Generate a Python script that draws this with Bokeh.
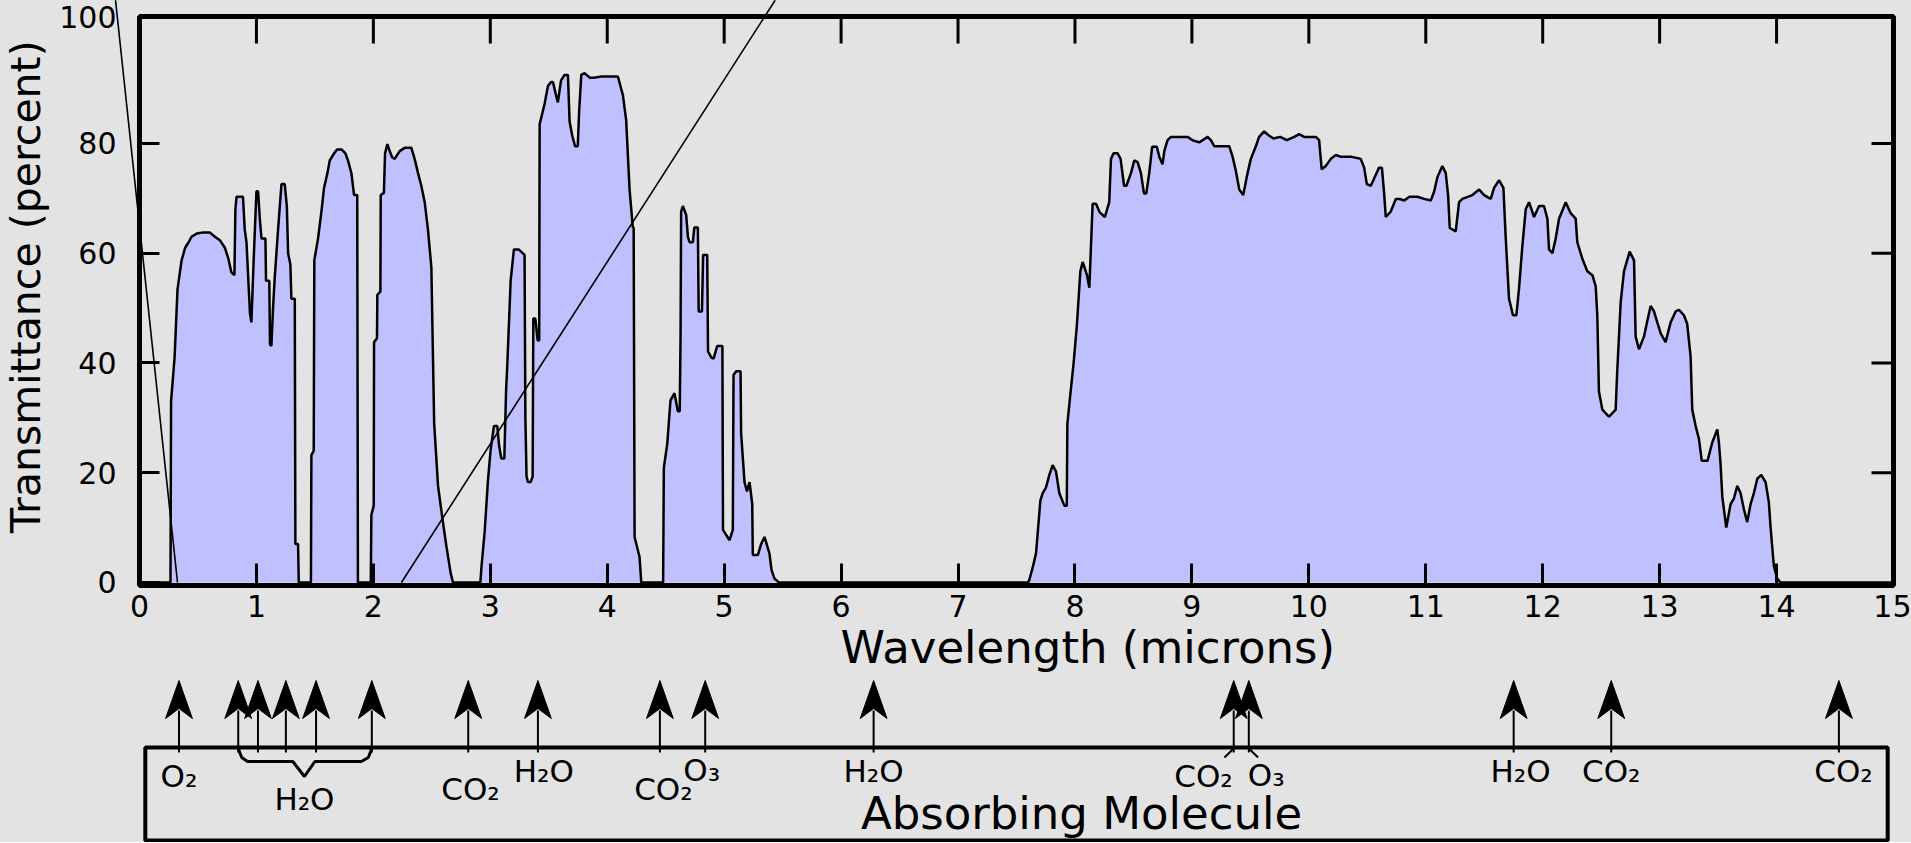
import math
from bokeh.plotting import figure
from bokeh.models import Range1d, FixedTicker
from bokeh.layouts import column
from bokeh.embed import file_html
from bokeh.resources import INLINE
from bokeh.core.properties import value

# ---------------- data (wavelength in microns, transmittance in percent) ----------------
BAND_1 = [(0.265, 0), (0.270, 33), (0.300, 41), (0.325, 53.4), (0.360, 58.7), (0.390, 61), (0.420, 62),
          (0.445, 63), (0.490, 63.6), (0.545, 63.8), (0.600, 63.8), (0.645, 63), (0.690, 62.3), (0.730, 61),
          (0.760, 59), (0.786, 56.5), (0.812, 56), (0.820, 68), (0.830, 70.3), (0.885, 70.3), (0.900, 64.3),
          (0.915, 62), (0.930, 55.4), (0.945, 49), (0.957, 47.4), (0.975, 58), (0.990, 66), (1.000, 71.3),
          (1.014, 71.3), (1.030, 66), (1.043, 62.7), (1.077, 62.7), (1.082, 55), (1.110, 55), (1.116, 43.4),
          (1.128, 43.1), (1.142, 50), (1.157, 55.7), (1.185, 64.3), (1.214, 72.6), (1.242, 72.6), (1.260, 68.6),
          (1.271, 60), (1.290, 58), (1.299, 51.7), (1.328, 51.7), (1.333, 7), (1.356, 7), (1.362, 0)]
BAND_2 = [(1.466, 0), (1.470, 23.2), (1.490, 24), (1.495, 58.7), (1.527, 62.7), (1.556, 67.6), (1.578, 71.9),
          (1.607, 74.6), (1.627, 76.9), (1.664, 78.2), (1.690, 78.9), (1.730, 78.9), (1.761, 78.2), (1.783, 76.9),
          (1.812, 74.6), (1.835, 70.6), (1.862, 70.6), (1.868, 0)]
BAND_3 = [(1.978, 0), (1.983, 12.3), (2.003, 14), (2.006, 43.8), (2.031, 44.5), (2.034, 52.4), (2.060, 53),
          (2.063, 70.6), (2.090, 71), (2.100, 78.2), (2.120, 79.9), (2.140, 78.6), (2.160, 77.5), (2.182, 77.2),
          (2.225, 78.6), (2.268, 79.2), (2.325, 79.2), (2.353, 77.2), (2.382, 74.6), (2.410, 72.3), (2.439, 69.3),
          (2.467, 64.3), (2.496, 57.4), (2.520, 29), (2.553, 17.6), (2.595, 11), (2.624, 6.7), (2.661, 1.7),
          (2.681, 0)]
BAND_4 = [(2.915, 0), (2.925, 3), (2.952, 9.3), (2.980, 18.6), (3.003, 24.2), (3.031, 28.5), (3.060, 28.5),
          (3.075, 25), (3.094, 22.6), (3.120, 22.6), (3.135, 35), (3.145, 39.5), (3.174, 55), (3.202, 60.7),
          (3.242, 60.7), (3.293, 59.7), (3.300, 30), (3.310, 19.3), (3.322, 18.3), (3.345, 18.3), (3.362, 19.3),
          (3.368, 48.1), (3.385, 48.1), (3.405, 44.1), (3.418, 44.1), (3.422, 83.5), (3.464, 87.2), (3.493, 90.5),
          (3.520, 91.2), (3.536, 91.2), (3.560, 89), (3.578, 87.5), (3.605, 91.5), (3.635, 92.5), (3.664, 92.5),
          (3.678, 84), (3.700, 81.5), (3.725, 79.5), (3.748, 79.5), (3.760, 86), (3.778, 92.5), (3.806, 92.8),
          (3.850, 92), (3.892, 92), (3.949, 92.2), (4.091, 92.2), (4.134, 88.8), (4.162, 84.2), (4.191, 71.6),
          (4.219, 64.7), (4.226, 64.7), (4.234, 8.3), (4.276, 4.7), (4.291, 0)]
BAND_5 = [(4.478, 0), (4.484, 20.9), (4.513, 25.2), (4.541, 33.2), (4.575, 34.5), (4.604, 31.2), (4.620, 31.2),
          (4.627, 44.8), (4.632, 67.6), (4.647, 68.6), (4.675, 67), (4.690, 63), (4.704, 62), (4.732, 62),
          (4.745, 64.7), (4.775, 64.7), (4.782, 49.4), (4.810, 49.4), (4.820, 59.7), (4.855, 59.7), (4.862, 42.1),
          (4.890, 41), (4.910, 40.8), (4.940, 43.1), (4.985, 43.1), (4.990, 9.6), (5.046, 7.7), (5.074, 9.6),
          (5.080, 37.8), (5.103, 38.5), (5.140, 38.5), (5.145, 27.2), (5.174, 18.3), (5.195, 16.6), (5.217, 18.3),
          (5.240, 14.3), (5.245, 5), (5.288, 5), (5.316, 7), (5.345, 8.3), (5.387, 5.3), (5.405, 2.3), (5.430, 0.7),
          (5.470, 0)]
BAND_6A = [(7.600, 0), (7.610, 0.5), (7.638, 2.7), (7.667, 5.3), (7.704, 14.9), (7.724, 16.3), (7.752, 17.3),
           (7.781, 19.6), (7.809, 21.4), (7.838, 20.2), (7.866, 16.3), (7.909, 14.0), (7.930, 14.0), (7.935, 28.9),
           (7.960, 34.2), (7.989, 40.1), (8.017, 47.1), (8.046, 56.7), (8.066, 58.4), (8.103, 56.0), (8.123, 53.7),
           (8.151, 69.0), (8.180, 69.0), (8.210, 67.5), (8.256, 66.6), (8.293, 69.3), (8.308, 77.2), (8.330, 78.2),
           (8.365, 78.2), (8.390, 77.2), (8.420, 72.3), (8.440, 72.3), (8.479, 74.6), (8.507, 76.9), (8.536, 76.6),
           (8.564, 74.6), (8.590, 70.9), (8.610, 70.9), (8.635, 74.6), (8.660, 79.4), (8.700, 79.4), (8.721, 77.6),
           (8.749, 76.2), (8.764, 78.6), (8.792, 80.6), (8.821, 81.2), (8.963, 81.2), (9.006, 80.6), (9.063, 80.2),
           (9.091, 80.6), (9.134, 81.2), (9.162, 80.6), (9.191, 79.5), (9.250, 79.5), (9.319, 79.5), (9.348, 77.6),
           (9.376, 75.0), (9.405, 71.6), (9.439, 70.6), (9.476, 74.6), (9.504, 77.2), (9.547, 79.5), (9.575, 81.2),
           (9.618, 82.2), (9.655, 81.5), (9.698, 80.9), (9.755, 81.2), (9.812, 80.6), (9.875, 81.2), (9.917, 81.7),
           (9.960, 81.2), (10.060, 81.2), (10.088, 80.6), (10.110, 75.3), (10.145, 75.9), (10.188, 77.2),
           (10.231, 77.9), (10.270, 77.6), (10.360, 77.6), (10.444, 77.2), (10.473, 75.6), (10.496, 72.6),
           (10.530, 72.3), (10.573, 74.3), (10.600, 75.6), (10.625, 75.6), (10.644, 70.9), (10.658, 66.6),
           (10.701, 67.6), (10.744, 69.9), (10.775, 69.9), (10.815, 69.6), (10.860, 70.3), (10.930, 70.3),
           (10.986, 69.9), (11.043, 69.6), (11.071, 71.2), (11.100, 73.9), (11.142, 75.9), (11.171, 74.6),
           (11.191, 70.6), (11.205, 64.6)]
BAND_6B = [(11.256, 64.0), (11.285, 69.3), (11.313, 69.9), (11.399, 70.6), (11.456, 71.6), (11.499, 70.6),
           (11.556, 69.9), (11.584, 71.9), (11.627, 73.3), (11.664, 71.9), (11.684, 62.7), (11.712, 51.7),
           (11.746, 48.7), (11.775, 48.7), (11.798, 53.7), (11.826, 61.3), (11.855, 68.0), (11.883, 69.3),
           (11.926, 66.6), (11.969, 68.6), (12.011, 68.6), (12.040, 66.3), (12.054, 60.7), (12.083, 60.0),
           (12.111, 62.7), (12.140, 66.3), (12.197, 69.3), (12.239, 67.3), (12.282, 66.3), (12.296, 62.0),
           (12.339, 59.0), (12.382, 56.7), (12.425, 56.0), (12.453, 54.0), (12.467, 48.7), (12.481, 34.8),
           (12.510, 31.5), (12.567, 30.2), (12.624, 31.5), (12.638, 38.8), (12.667, 51.1), (12.695, 56.7),
           (12.744, 60.3), (12.781, 58.7), (12.795, 44.8), (12.823, 42.5), (12.866, 44.8), (12.895, 47.7),
           (12.923, 50.4), (12.952, 49.4), (12.980, 47.4), (13.009, 45.4), (13.051, 43.8), (13.094, 47.4),
           (13.137, 49.4), (13.165, 49.7), (13.208, 48.7), (13.236, 47.1), (13.265, 41.1), (13.279, 31.5),
           (13.308, 28.5), (13.336, 26.2), (13.360, 22.2), (13.410, 22.2), (13.450, 25.5), (13.493, 27.9),
           (13.507, 25.5), (13.521, 21.6), (13.536, 15.6), (13.570, 10.0), (13.607, 14.3), (13.635, 15.3),
           (13.664, 17.6), (13.692, 16.3), (13.721, 13.3), (13.749, 11.0), (13.778, 14.3), (13.806, 16.3),
           (13.835, 18.9), (13.869, 19.6), (13.906, 18.3), (13.934, 14.6), (13.949, 10.0), (13.977, 3.0),
           (14.006, 0.7), (14.034, 0)]

x_ticks = list(range(0, 16))
x_inner_ticks = list(range(1, 15))
y_ticks = [0, 20, 40, 60, 80]
y_top_label = "100"

# two straight guide lines drawn across the chart
guide1_x = [-0.205, 0.325]
guide1_y = [106.1, 0.0]
guide2_x = [2.24, 5.436]
guide2_y = [0.0, 106.1]

# absorbing molecules
arrow_x = [0.29, 0.80, 0.97, 1.21, 1.47, 1.95, 2.78, 3.38, 4.43, 4.82, 6.27, 9.37, 9.50, 11.78, 12.62, 14.58]
mol_text = ["O₂", "H₂O", "CO₂", "H₂O", "CO₂", "O₃", "H₂O", "CO₂", "O₃", "H₂O", "CO₂", "CO₂"]
mol_x = [0.29, 1.37, 2.80, 3.43, 4.46, 4.79, 6.27, 9.11, 9.65, 11.84, 12.62, 14.62]
mol_y = [65, 42, 52, 70, 52, 71, 70, 65, 66, 70, 70, 70]

wavelength = [0.0]
transmittance = [0.0]
for band in (BAND_1, BAND_2, BAND_3, BAND_4, BAND_5, BAND_6A, BAND_6B):
    for w, t in band:
        wavelength.append(w)
        transmittance.append(t)
wavelength.append(15.0)
transmittance.append(0.0)

# ---------------- styling ----------------
BG = "#e3e3e3"
FILL = "#c0c0ff"
FONT = "DejaVu Sans"
W = 1911
X_LO, X_HI = 0.0, 15.0
Y_LO, Y_HI = -0.55, 103.14
PX_X = 117.0       # pixels per micron
PX_Y = 5.4875      # pixels per percent

p = figure(width=W, height=676, x_range=Range1d(X_LO, X_HI), y_range=Range1d(Y_LO, Y_HI),
           output_backend="svg", toolbar_location=None,
           min_border_left=139, min_border_right=18, min_border_top=16, min_border_bottom=91)
p.background_fill_color = BG
p.border_fill_color = BG
p.outline_line_color = "black"
p.outline_line_width = 5
p.xgrid.visible = False
p.ygrid.visible = False

xa = p.xaxis[0]
xa.ticker = FixedTicker(ticks=x_ticks)
xa.axis_line_color = None
xa.major_tick_in = 22
xa.major_tick_out = 0
xa.major_tick_line_width = 3
xa.minor_tick_line_color = None
xa.major_label_text_font = FONT
xa.major_label_text_font_size = "30px"
xa.major_label_text_color = "black"
xa.major_label_standoff = 9

y_top_pos = math.floor(Y_HI)
ya = p.yaxis[0]
ya.ticker = FixedTicker(ticks=y_ticks + [y_top_pos])
ya.major_label_overrides = {y_top_pos: y_top_label}
ya.axis_line_color = None
ya.major_tick_in = 20
ya.major_tick_out = 0
ya.major_tick_line_width = 3
ya.minor_tick_line_color = None
ya.major_label_text_font = FONT
ya.major_label_text_font_size = "30px"
ya.major_label_text_color = "black"
ya.major_label_standoff = 23

# inward ticks on the top and right edges of the frame
top_len = 27 / PX_Y
right_len = 22 / PX_X
p.segment(x0=x_inner_ticks, y0=[Y_HI] * len(x_inner_ticks), x1=x_inner_ticks,
          y1=[Y_HI - top_len] * len(x_inner_ticks), line_color="black", line_width=3)
p.segment(x0=[X_HI] * 4, y0=y_ticks[1:], x1=[X_HI - right_len] * 4, y1=y_ticks[1:],
          line_color="black", line_width=3)

p.varea(x=wavelength, y1=0, y2=transmittance, fill_color=FILL, fill_alpha=1.0)
p.line(x=wavelength, y=transmittance, line_color="black", line_width=2.5)

p.line(x=guide1_x, y=guide1_y, line_color="black", line_width=1.6, level="overlay")
p.line(x=guide2_x, y=guide2_y, line_color="black", line_width=1.6, level="overlay")

# axis titles (anchored inside the frame, shifted outward in screen pixels)
p.text(x=[8.11], y=[0.0], text=["Wavelength (microns)"], x_offset=0, y_offset=65,
       text_font=value(FONT), text_font_size="45px", text_align="center", text_baseline="middle",
       text_color="black", level="overlay")
p.text(x=[0.01], y=[53.9], text=["Transmittance (percent)"], x_offset=-115, y_offset=0, angle=math.pi / 2,
       text_font=value(FONT), text_font_size="41px", text_align="center", text_baseline="middle",
       text_color="black", level="overlay")

# ---------------- absorbing molecule panel ----------------
p2 = figure(width=W, height=166, x_range=Range1d(-0.05, 15.05), y_range=Range1d(-2, 164),
            x_axis_type=None, y_axis_type=None, output_backend="svg", toolbar_location=None,
            min_border_left=133, min_border_right=11, min_border_top=0, min_border_bottom=0)
p2.background_fill_color = BG
p2.border_fill_color = BG
p2.outline_line_color = None

p2.quad(left=[X_LO], right=[X_HI], bottom=[0], top=[93], fill_color=None, line_color="black", line_width=4)

n = len(arrow_x)
HW = 13.5 / PX_X
head_xs = [[x, x + HW, x, x - HW] for x in arrow_x]
head_ys = [[160, 122, 132, 122] for _ in arrow_x]
p2.segment(x0=arrow_x, y0=[88] * n, x1=arrow_x, y1=[130] * n, line_color="black", line_width=2)
p2.patches(xs=head_xs, ys=head_ys, fill_color="black", line_color="black", line_width=1)

# brace grouping the water-vapour arrows
bl, br, bm = arrow_x[1], arrow_x[5], mol_x[1]
brace_x = [bl, bl + 0.03, bl + 0.08, bm - 0.10, bm, bm + 0.09, br - 0.09, br - 0.03, br]
brace_y = [92, 83, 79, 79, 64, 79, 79, 83, 92]
p2.line(x=brace_x, y=brace_y, line_color="black", line_width=3)

# short connectors for the CO2 / O3 pair near 9.4 microns
p2.segment(x0=[arrow_x[11], arrow_x[12]], y0=[92, 92], x1=[arrow_x[11] - 0.08, arrow_x[12] + 0.08],
           y1=[83, 83], line_color="black", line_width=2)

p2.text(x=mol_x, y=mol_y, text=mol_text, text_font=value(FONT), text_font_size="31px",
        text_align="center", text_baseline="middle", text_color="black")
p2.text(x=[8.06], y=[27], text=["Absorbing Molecule"], text_font=value(FONT), text_font_size="45px",
        text_align="center", text_baseline="middle", text_color="black")

layout = column(p, p2, spacing=0, styles={"background-color": BG})
open("out.html", "w").write(file_html(layout, INLINE, title="Atmospheric transmittance"))
